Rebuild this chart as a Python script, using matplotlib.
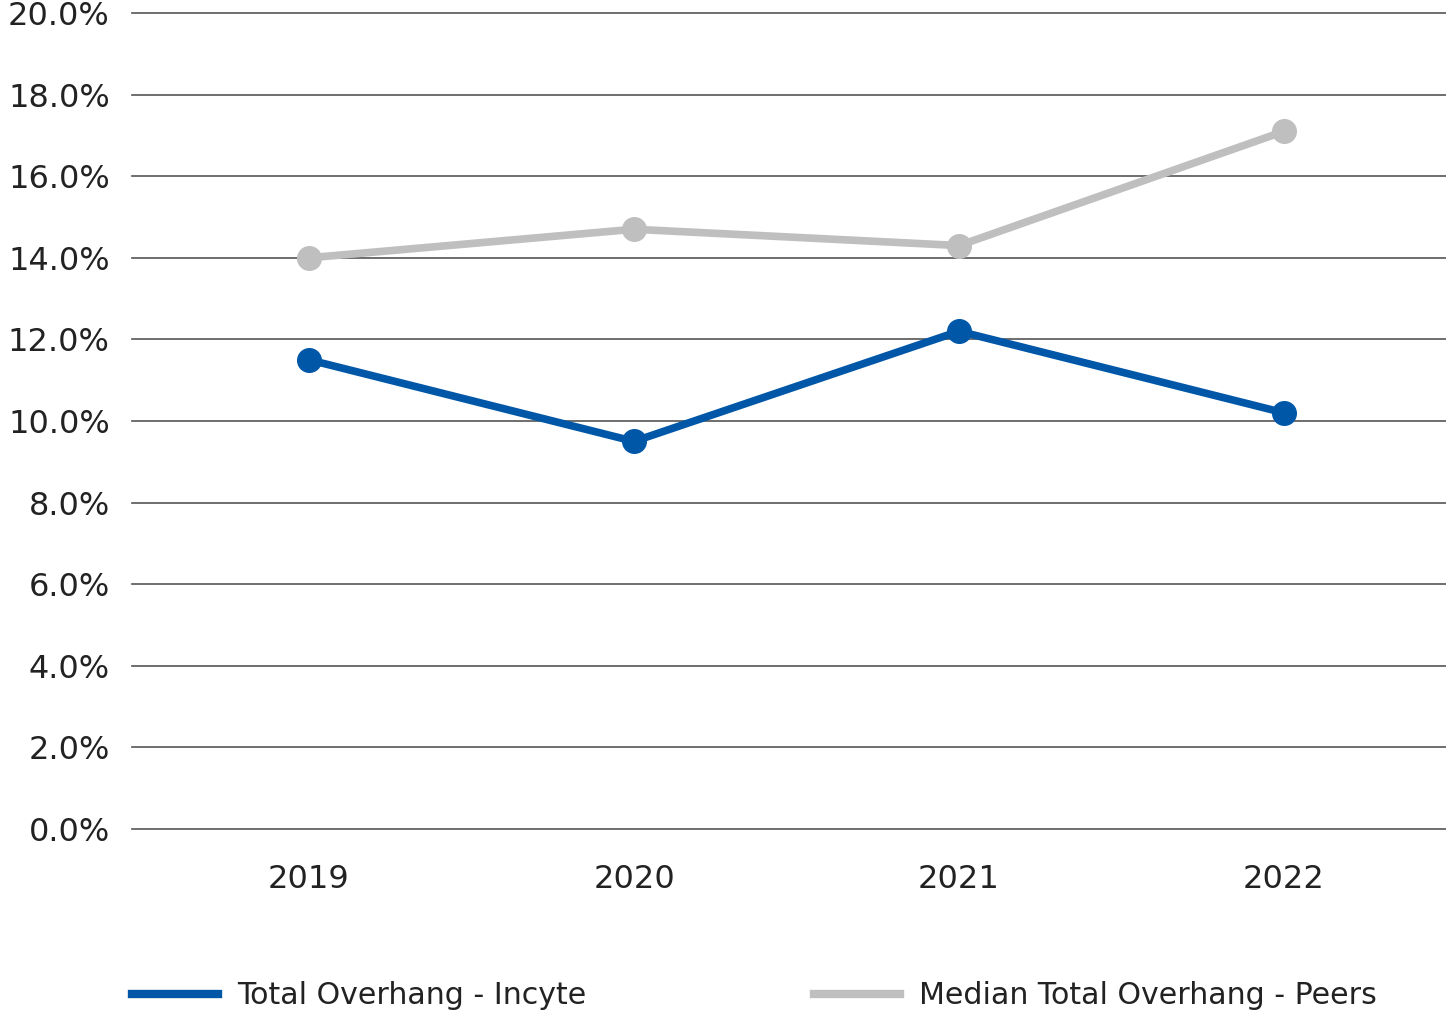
import matplotlib
matplotlib.use("Agg")
import matplotlib.pyplot as plt
from matplotlib.lines import Line2D

years = ["2019", "2020", "2021", "2022"]
incyte = [11.5, 9.5, 12.2, 10.2]
peers = [14.0, 14.7, 14.3, 17.1]
yticks = [0, 2, 4, 6, 8, 10, 12, 14, 16, 18, 20]

BLUE = "#0057a8"
GRAY = "#bfbfbf"
TXT = "#222222"

plt.rcParams['font.family'] = ['DejaVu Sans']
fig = plt.figure(figsize=(14.46, 10.15), dpi=100)
ax = fig.add_axes([132/1446, 1-829/1015, 1-132/1446, (829-13)/1015])

x = list(range(len(years)))
ax.set_xlim(-(309-132)/325, 3 + (1446-1284)/325)
ax.set_ylim(0, 20)

for v in yticks:
    ax.axhline(v, color="#555555", lw=1.2, zorder=1, clip_on=False)

ax.plot(x, peers, color=GRAY, lw=5.5, marker="o", ms=17, zorder=3, solid_capstyle="round")
ax.plot(x, incyte, color=BLUE, lw=5.5, marker="o", ms=17, zorder=4, solid_capstyle="round")

for s in ax.spines.values():
    s.set_visible(False)
ax.set_yticks(yticks)
ax.set_yticklabels([f"{v:.1f}%" for v in yticks])
ax.set_xticks(x)
ax.set_xticklabels(years)
ax.tick_params(axis="y", length=0, pad=16, labelsize=23, labelcolor=TXT)
ax.tick_params(axis="x", length=0, pad=25, labelsize=23, labelcolor=TXT)

handles = [Line2D([], [], color=BLUE, lw=6), Line2D([], [], color=GRAY, lw=6)]
labels = ["Total Overhang - Incyte", "Median Total Overhang - Peers"]
leg = fig.legend(handles, labels, loc="center left", bbox_to_anchor=(132/1446, 1-996/1015),
                 ncol=2, frameon=False, fontsize=21.6, handlelength=2.85, handletextpad=0.65,
                 columnspacing=7.6, borderpad=0, borderaxespad=0)
for t in leg.get_texts():
    t.set_color(TXT)

fig.savefig("out.png", dpi=100)
